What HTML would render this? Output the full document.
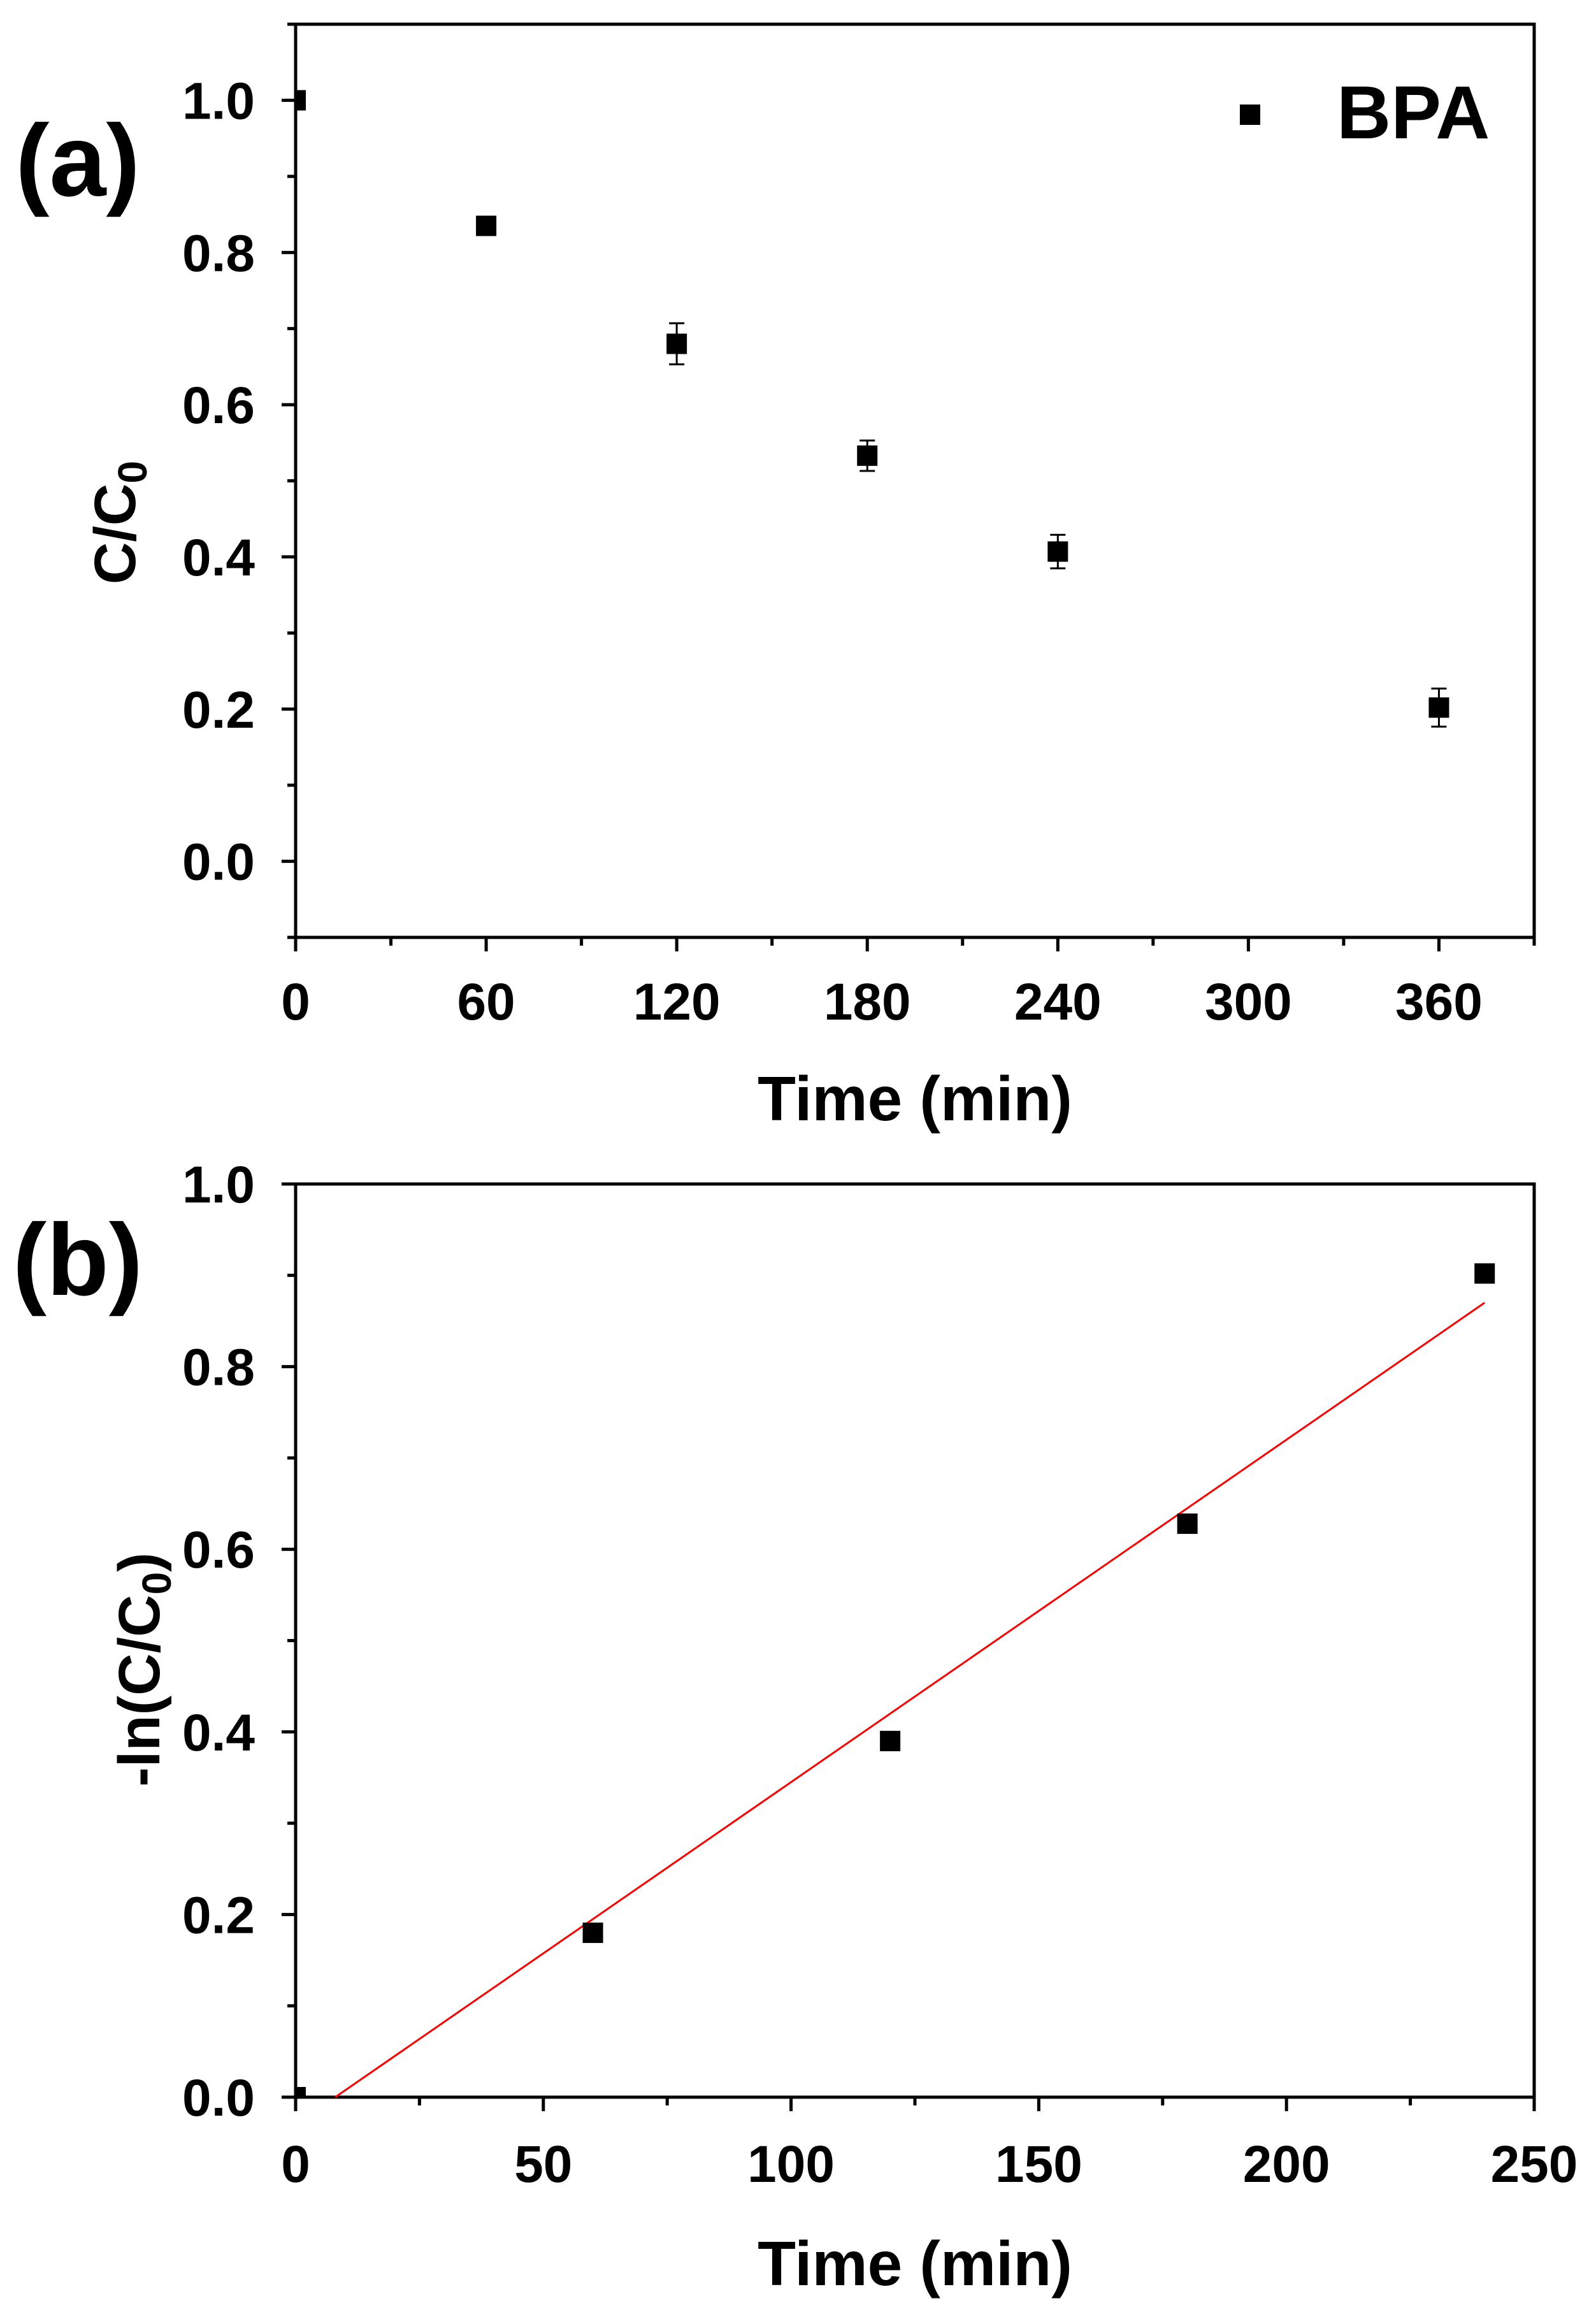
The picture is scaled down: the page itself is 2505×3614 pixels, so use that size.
<!DOCTYPE html>
<html><head><meta charset="utf-8"><style>
html,body{margin:0;padding:0;background:#fff}
svg{display:block}
text{font-family:"Liberation Sans",Arial,sans-serif;font-weight:bold;fill:#000}
</style></head><body>
<svg id="fig" width="2505" height="3614" viewBox="0 0 2505 3614" xmlns="http://www.w3.org/2000/svg">
<defs>
<clipPath id="clipA"><rect x="464" y="38" width="1944" height="1433"/></clipPath>
<clipPath id="clipB"><rect x="464" y="1858" width="1944" height="1433"/></clipPath>
</defs>
<g id="panelA"></g>
<g id="panelB"></g>
</svg>
<script>
// Panel (a) data
const aTimes = [0, 60, 120, 180, 240, 360];
const aValues = [1.0, 0.835, 0.68, 0.533, 0.407, 0.202];
const aErrors = [0, 0, 0.027, 0.02, 0.022, 0.025];
const aXTicks = [0, 60, 120, 180, 240, 300, 360];
const aYTicks = [0.0, 0.2, 0.4, 0.6, 0.8, 1.0];
// Panel (b) data
const bTimes = [0, 60, 120, 180, 240];
const bValues = [0, 0.18, 0.39, 0.628, 0.902];
const bFitX = [8, 240];
const bFitSlope = 0.00375;
const bFitIntercept = -0.03;
const bXTicks = [0, 50, 100, 150, 200, 250];
const bYTicks = [0.0, 0.2, 0.4, 0.6, 0.8, 1.0];

const NS = "http://www.w3.org/2000/svg";
function mk(tag, attrs, parent){const e=document.createElementNS(NS,tag);for(const k in attrs)e.setAttribute(k,attrs[k]);parent.appendChild(e);return e;}

function drawPanel(g, cfg){
  const L=464,R=2408,T=cfg.top,B=cfg.top+1433;
  const sx=v=>L+(v-cfg.xmin)/(cfg.xmax-cfg.xmin)*(R-L);
  const sy=v=>B-(v-cfg.ymin)/(cfg.ymax-cfg.ymin)*(B-T);
  const frame=mk('rect',{x:L,y:T,width:R-L,height:B-T,fill:'none',stroke:'#000','stroke-width':5},g);
  
  
  for(let v=cfg.xmin; v<=cfg.xmax+1e-9; v+=cfg.xminor){
    const major = Math.abs((v/cfg.xmajor)-Math.round(v/cfg.xmajor))<1e-6;
    const t=mk('line',{x1:sx(v),x2:sx(v),y1:B,y2:B+(major?22:13),stroke:'#000','stroke-width':5},g);
    
    
  }
  cfg.xticks.forEach(v=>{
    const t=mk('text',{x:sx(v),y:cfg.xlabelY,'text-anchor':'middle','font-size':82},g);
    t.textContent=String(v);
    
    
  });
  for(let v=Math.ceil(cfg.ymin*10)/10; v<=cfg.ymax+1e-9; v+=0.1){
    const major = Math.abs(v*5-Math.round(v*5))<1e-6;
    const t=mk('line',{x1:L-(major?22:13),x2:L,y1:sy(v),y2:sy(v),stroke:'#000','stroke-width':5},g);
    
    
  }
  cfg.yticks.forEach(v=>{
    const t=mk('text',{x:400,y:sy(v)+29,'text-anchor':'end','font-size':82},g);
    t.textContent=v.toFixed(1);
    
    
  });
  const xt=mk('text',{x:1436,y:cfg.xtitleY,'text-anchor':'middle','font-size':98},g);
  xt.textContent='Time (min)';
  
  
  const yt=mk('text',{x:0,y:0,'text-anchor':'middle','font-size':92,transform:`translate(${cfg.ytitleX},${cfg.ytitleY}) rotate(-90)`},g);
  yt.innerHTML=cfg.ytitle;
  
  
  const pl=mk('text',{x:122,y:cfg.labelY,'text-anchor':'middle','font-size':160},g);
  pl.textContent=cfg.label;
  
  
  return {sx,sy};
}

const gA=document.getElementById('panelA');
const A=drawPanel(gA,{top:38,xmin:0,xmax:390,ymin:-0.1,ymax:1.1,xminor:30,xmajor:60,xticks:aXTicks,yticks:aYTicks,
  xlabelY:1600,xtitleY:1758,ytitleX:212,ytitleY:820,
  ytitle:'C/C<tspan font-size="64" dy="18">0</tspan>',label:'(a)',labelY:307});
const dA=mk('g',{'clip-path':'url(#clipA)'},gA);


aTimes.forEach((t,i)=>{
  const x=A.sx(t), y=A.sy(aValues[i]);
  if(aErrors[i]>0){
    const y1=A.sy(aValues[i]+aErrors[i]), y2=A.sy(aValues[i]-aErrors[i]);
    const e=mk('path',{d:`M${x},${y1}V${y2}M${x-12},${y1}H${x+12}M${x-12},${y2}H${x+12}`,stroke:'#000','stroke-width':3,fill:'none'},dA);
    
    
  }
  const m=mk('rect',{x:x-16,y:y-16,width:32,height:32,fill:'#000'},dA);
  
  
});
const lm=mk('rect',{x:1946,y:164,width:32,height:32,fill:'#000'},gA);


const lt=mk('text',{x:2098,y:217,'font-size':118},gA);
lt.textContent='BPA';



const gB=document.getElementById('panelB');
const B=drawPanel(gB,{top:1858,xmin:0,xmax:250,ymin:0,ymax:1,xminor:25,xmajor:50,xticks:bXTicks,yticks:bYTicks,
  xlabelY:3424,xtitleY:3586,ytitleX:250,ytitleY:2620,
  ytitle:'-ln(C/C<tspan font-size="64" dy="18">0</tspan><tspan dy="-18">)</tspan>',label:'(b)',labelY:2032});
const dB=mk('g',{'clip-path':'url(#clipB)'},gB);


const fit=mk('line',{x1:B.sx(bFitX[0]),y1:B.sy(bFitSlope*bFitX[0]+bFitIntercept),x2:B.sx(bFitX[1]),y2:B.sy(bFitSlope*bFitX[1]+bFitIntercept),stroke:'#ff0000','stroke-width':3},dB);


bTimes.forEach((t,i)=>{
  const x=B.sx(t), y=B.sy(bValues[i]);
  const m=mk('rect',{x:x-16,y:y-16,width:32,height:32,fill:'#000'},dB);
  
  
});
</script>
</body></html>
